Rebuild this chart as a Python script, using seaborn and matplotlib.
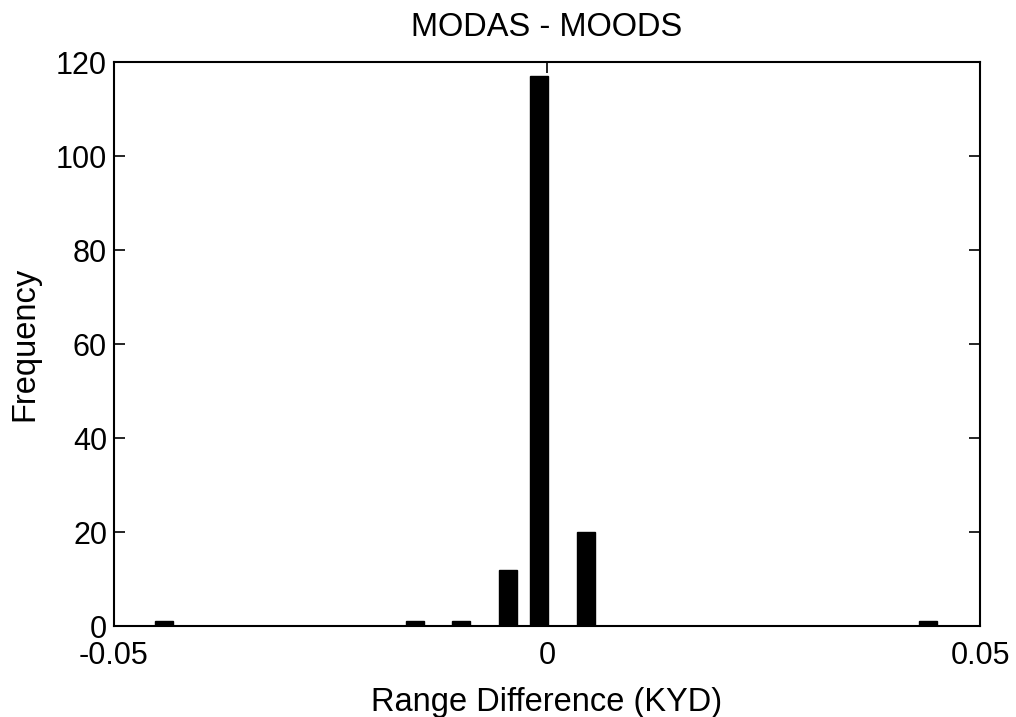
import numpy as np
import pandas as pd
import matplotlib
matplotlib.use("Agg")
import matplotlib.pyplot as plt
import seaborn as sns

# Histogram bin centres (KYD) and counts
bin_centers = [-0.0442, -0.0152, -0.0099, -0.0045, -0.0009, 0.0045, 0.0440]
counts = [1, 1, 1, 12, 117, 20, 1]
bar_width = 0.0021

x_ticks = [-0.05, 0, 0.05]
x_tick_labels = ["-0.05", "0", "0.05"]
y_ticks = [0, 20, 40, 60, 80, 100, 120]

sns.set_theme(style="ticks")
plt.rcParams["font.family"] = ["Liberation Sans", "DejaVu Sans"]
plt.rcParams["text.color"] = "black"
plt.rcParams["axes.labelcolor"] = "black"

df = pd.DataFrame({"diff": bin_centers, "count": counts})
centers = np.array(bin_centers)
edges = sorted(np.concatenate([centers - bar_width / 2, centers + bar_width / 2]).tolist())

fig = plt.figure(figsize=(10.16, 7.17), dpi=100)
ax = fig.add_axes([0.1122, 0.1269, 0.8524, 0.7866])

sns.histplot(data=df, x="diff", weights="count", bins=edges, ax=ax,
             color="black", edgecolor="black", linewidth=1.0, alpha=1.0)

ax.set_xlim(-0.05, 0.05)
ax.set_ylim(0, 120)
ax.set_xticks(x_ticks)
ax.set_xticklabels(x_tick_labels)
ax.set_yticks(y_ticks)
ax.tick_params(direction="in", length=8, width=1.2, labelsize=22, colors="black",
               top=True, right=True)
ax.tick_params(axis="x", pad=11)
ax.tick_params(axis="y", pad=5)
for s in ax.spines.values():
    s.set_visible(True)
    s.set_linewidth(1.5)
    s.set_color("black")

ax.set_title("MODAS - MOODS", fontsize=23.5, pad=19, color="black")
ax.set_xlabel("Range Difference (KYD)", fontsize=23.5, labelpad=11)
ax.set_ylabel("Frequency", fontsize=23.5, labelpad=11)

fig.savefig("out.png", dpi=100, facecolor="white")
